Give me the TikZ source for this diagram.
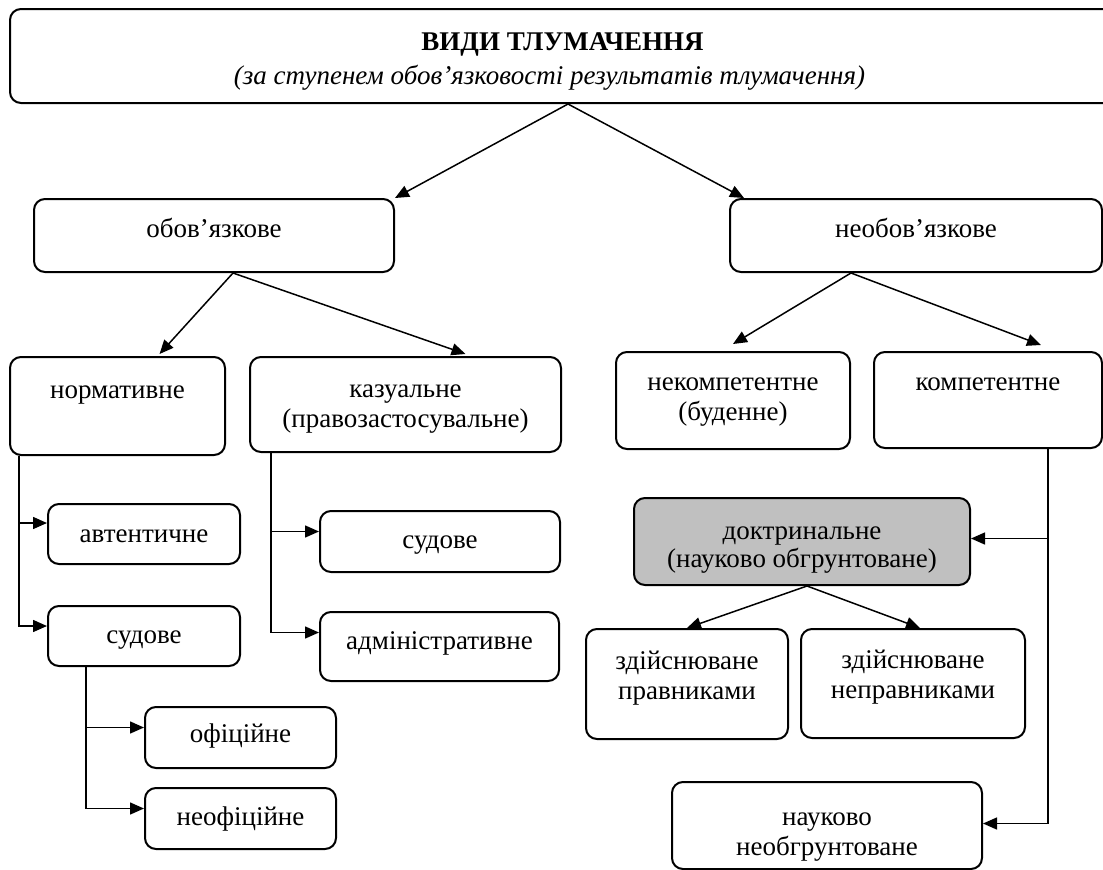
\documentclass[tikz,border=0pt]{standalone}
\usepackage{fontspec}
\setmainfont{Liberation Serif}
\usetikzlibrary{arrows.meta}
\definecolor{boxgrey}{HTML}{C0C0C0}

\begin{document}
\begin{tikzpicture}[x=1pt, y=-1pt,
    box/.style={rectangle, draw, rounded corners=11pt, line width=2pt, align=center, inner sep=0pt, font=\fontsize{27}{30}\selectfont},
    greybox/.style={box, fill=boxgrey},
    one/.style={text height=20pt, text depth=6pt},
    two/.style={text height=50pt, text depth=6pt},
    arr/.style={-{Triangle[length=14pt, width=12pt]}, line width=1.5pt}]

    \useasboundingbox (0,0) rectangle (1103,870);

    % Nodes
    \node[box, minimum width=1105pt, minimum height=94pt, text height=62pt, text depth=6pt] (vydy) at (562.5,56) {\textbf{ВИДИ ТЛУМАЧЕННЯ}\\[4pt]\textit{(за ступенем обов’язковості результатів тлумачення)}\hspace*{26pt}};

    \node[box, one, text depth=17pt, minimum width=360pt, minimum height=73pt] (obov) at (214,235.5) {обов’язкове};
    \node[box, one, text depth=17pt, minimum width=372pt, minimum height=73pt] (neobov) at (916,235.5) {необов’язкове};

    \node[box, two, minimum width=215pt, minimum height=98pt] (norm) at (117.5,406) {нормативне\\~};
    \node[box, two, text height=52pt, minimum width=311pt, minimum height=95pt] (kaz) at (405.5,404.5) {казуальне\\(правозастосувальне)};
    \node[box, two, text depth=11pt, minimum width=234pt, minimum height=97pt] (nekomp) at (733,400.5) {некомпетентне\\(буденне)};
    \node[box, two, text depth=10pt, minimum width=228pt, minimum height=96pt] (komp) at (988,400) {компетентне\\~};

    \node[box, one, text height=23pt, minimum width=192pt, minimum height=60pt] (avt) at (144,534) {автентичне};
    \node[box, one, minimum width=192pt, minimum height=60pt] (sudn) at (144,636) {судове};
    \node[box, one, minimum width=240pt, minimum height=61pt] (sudk) at (440,541.5) {судове};
    \node[box, one, text depth=15pt, minimum width=239pt, minimum height=69pt] (adm) at (439.5,646.5) {адміністративне};
    \node[box, one, text depth=10pt, minimum width=191pt, minimum height=61pt] (ofic) at (240.5,737.5) {офіційне};
    \node[box, one, minimum width=191pt, minimum height=61pt] (neofic) at (240.5,818.5) {неофіційне};

    \node[greybox, two, text height=57pt, minimum width=336pt, minimum height=87pt] (doktr) at (802,541.5) {доктринальне\\[-2pt](науково обгрунтоване)};
    \node[box, two, text depth=20pt, minimum width=202pt, minimum height=110pt] (pravn) at (687,684) {здійснюване\\правниками};
    \node[box, two, text depth=20pt, minimum width=224pt, minimum height=109pt] (nepravn) at (913,683.5) {здійснюване\\неправниками};
    \node[box, two, text height=65pt, minimum width=310pt, minimum height=87pt] (nauk) at (827,825.5) {науково\\необгрунтоване};

    % Arrows
    \draw[arr] ([xshift=5.5pt]vydy.south) -- (obov.north east);
    \draw[arr] ([xshift=5.5pt]vydy.south) -- ([xshift=15pt]neobov.north west);

    \draw[arr] ([xshift=19pt]obov.south) -- ([xshift=42pt, yshift=2pt]norm.north);
    \draw[arr] ([xshift=19pt]obov.south) -- ([xshift=60pt, yshift=2pt]kaz.north);
    \draw[arr] ([xshift=-65pt]neobov.south) -- ([yshift=7pt]nekomp.north);
    \draw[arr] ([xshift=-65pt]neobov.south) -- ([xshift=53pt, yshift=6pt]komp.north);

    \coordinate (nd) at ([xshift=10pt]norm.south west);
    \draw[arr] (nd) |- ([yshift=11pt]avt.west);
    \draw[arr] (nd) |- ([yshift=10pt]sudn.west);

    \coordinate (kd) at ([xshift=22pt]kaz.south west);
    \draw[arr] (kd) |- ([yshift=10pt]sudk.west);
    \draw[arr] (kd) |- ([yshift=14pt]adm.west);

    \coordinate (sd) at ([xshift=39pt]sudn.south west);
    \draw[arr] (sd) |- ([yshift=10pt]ofic.west);
    \draw[arr] (sd) |- ([yshift=10pt]neofic.west);

    \coordinate (cd) at ([xshift=60pt]komp.south);
    \coordinate (de) at ([yshift=3pt]doktr.east);
    \draw[arr] (cd |- de) -- (de);
    \draw[arr] (cd) |- ([yshift=2pt]nauk.east);

    \draw[arr] ([xshift=5pt]doktr.south) -- (pravn.north);
    \draw[arr] ([xshift=5pt]doktr.south) -- ([xshift=7pt]nepravn.north);

\end{tikzpicture}
\end{document}
